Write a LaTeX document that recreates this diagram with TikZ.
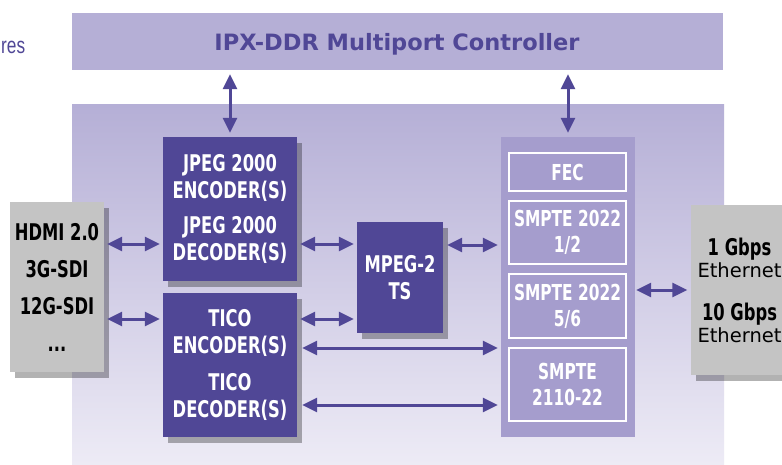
\documentclass[tikz,border=0pt]{standalone}
\usepackage{fontspec}
\setmainfont{DejaVu Sans}
\newfontfamily\condfont[FakeStretch=0.71]{DejaVu Sans}
\newfontfamily\smcondfont[FakeStretch=0.70]{DejaVu Sans}
\newfontfamily\resfont[FakeStretch=0.75]{Liberation Sans}
\usetikzlibrary{arrows.meta,shadows}
\definecolor{dpurple}{HTML}{504796}
\definecolor{lpurple}{HTML}{B5AFD6}
\definecolor{mpurple}{HTML}{A59DCD}
\definecolor{paleend}{HTML}{EEECF6}
\definecolor{boxgray}{HTML}{C4C4C4}
\newcommand\blockfont{\condfont\bfseries\fontsize{23}{27}\selectfont}
\newcommand\smptefont{\smcondfont\bfseries\fontsize{22}{26}\selectfont}
\tikzset{
  shad/.style={drop shadow={shadow xshift=5pt,shadow yshift=-6pt,fill=black,opacity=.3}},
  dbox/.style={fill=dpurple,text=white,inner sep=0pt,align=center,font=\blockfont,shad},
  gbox/.style={fill=boxgray,text=black,inner sep=0pt,align=center,shad},
  sbox/.style={draw=white,line width=2pt,fill=mpurple,text=white,inner sep=0pt,align=center,font=\smptefont},
  dbl/.style={line width=3pt,draw=dpurple,{Triangle[width=14pt,length=15pt]}-{Triangle[width=14pt,length=15pt]}},
}
\begin{document}
\begin{tikzpicture}[x=1pt,y=-1pt]
\clip (0,0) rectangle (782,464);
\fill[white] (0,0) rectangle (782,464);
% fragment of text on the left
\node[anchor=west,inner sep=0pt,text=dpurple,font=\resfont\fontsize{23}{26}\selectfont] (res) at (1,47) {res};
% top bar
\node[fill=lpurple,inner sep=0pt,minimum width=651pt,minimum height=57pt] (bar) at (397.5,41.5) {};
\node[inner sep=0pt,text=dpurple,font=\bfseries\fontsize{22.5}{26}\selectfont] (title) at (397,44) {IPX-DDR Multiport Controller};
% main panel
\node[inner sep=0pt,minimum width=652pt,minimum height=366pt,top color=lpurple,bottom color=paleend] (panel) at (398,287) {};
% blocks
\node[dbox,minimum width=134pt,minimum height=144pt] (jpeg) at (230,209) {JPEG 2000\\ENCODER(S)\\[8pt]JPEG 2000\\DECODER(S)};
\node[dbox,minimum width=134pt,minimum height=144pt] (tico) at (230,365) {TICO\\ENCODER(S)\\[10pt]TICO\\DECODER(S)};
\node[dbox,minimum width=86pt,minimum height=111pt] (mpeg) at (400,277.5) {MPEG-2\\TS};
% SMPTE column
\node[fill=mpurple,inner sep=0pt,minimum width=134pt,minimum height=300pt] (col) at (568,287) {};
\node[sbox,minimum width=117pt,minimum height=38pt] (fec) at (567.5,172) {FEC};
\node[sbox,minimum width=117pt,minimum height=63pt] (s1) at (567.5,232.5) {SMPTE 2022\\1/2};
\node[sbox,minimum width=117pt,minimum height=64pt] (s2) at (567.5,306) {SMPTE 2022\\5/6};
\node[sbox,minimum width=117pt,minimum height=73pt] (s3) at (567.5,384.5) {SMPTE\\2110-22};
% gray boxes
\node[gbox,minimum width=94pt,minimum height=170pt,font=\blockfont\fontsize{23}{37}\selectfont] (hdmi) at (57,287) {HDMI 2.0\\3G-SDI\\12G-SDI\\...};
\node[gbox,minimum width=98pt,minimum height=170pt,font=\fontsize{19.5}{22}\selectfont] (eth) at (739.5,290) {{\condfont\bfseries\fontsize{23}{22}\selectfont 1 Gbps}\\Ethernet\\[21pt]{\condfont\bfseries\fontsize{23}{22}\selectfont 10 Gbps}\\Ethernet};
% connectors
\draw[dbl,shorten <=4pt,shorten >=4pt] (jpeg.north |- bar.south) -- (jpeg.north);
\draw[dbl,shorten <=4pt,shorten >=4pt] (col.north |- bar.south) -- (col.north);
\coordinate (c1) at (hdmi.east |- 0,244);
\coordinate (c2) at (hdmi.east |- 0,319);
\draw[dbl,shorten <=3pt,shorten >=3pt] (c1) -- (c1 -| jpeg.west);
\draw[dbl,shorten <=3pt,shorten >=3pt] (c2) -- (c2 -| tico.west);
\coordinate (c3) at (jpeg.east |- 0,244);
\coordinate (c4) at (tico.east |- 0,319);
\draw[dbl,shorten <=3pt,shorten >=3pt] (c3) -- (c3 -| mpeg.west);
\draw[dbl,shorten <=3pt,shorten >=3pt] (c4) -- (c4 -| mpeg.west);
\coordinate (c5) at (mpeg.east |- 0,245);
\draw[dbl,shorten <=4pt,shorten >=3pt] (c5) -- (c5 -| col.west);
\coordinate (c6) at (tico.east |- 0,348);
\coordinate (c7) at (tico.east |- 0,405);
\draw[dbl,shorten <=5pt,shorten >=3pt] (c6) -- (c6 -| col.west);
\draw[dbl,shorten <=5pt,shorten >=3pt] (c7) -- (c7 -| col.west);
\coordinate (c8) at (col.east |- 0,290);
\draw[dbl,shorten <=1pt,shorten >=3pt] (c8) -- (c8 -| eth.west);
\end{tikzpicture}
\end{document}
